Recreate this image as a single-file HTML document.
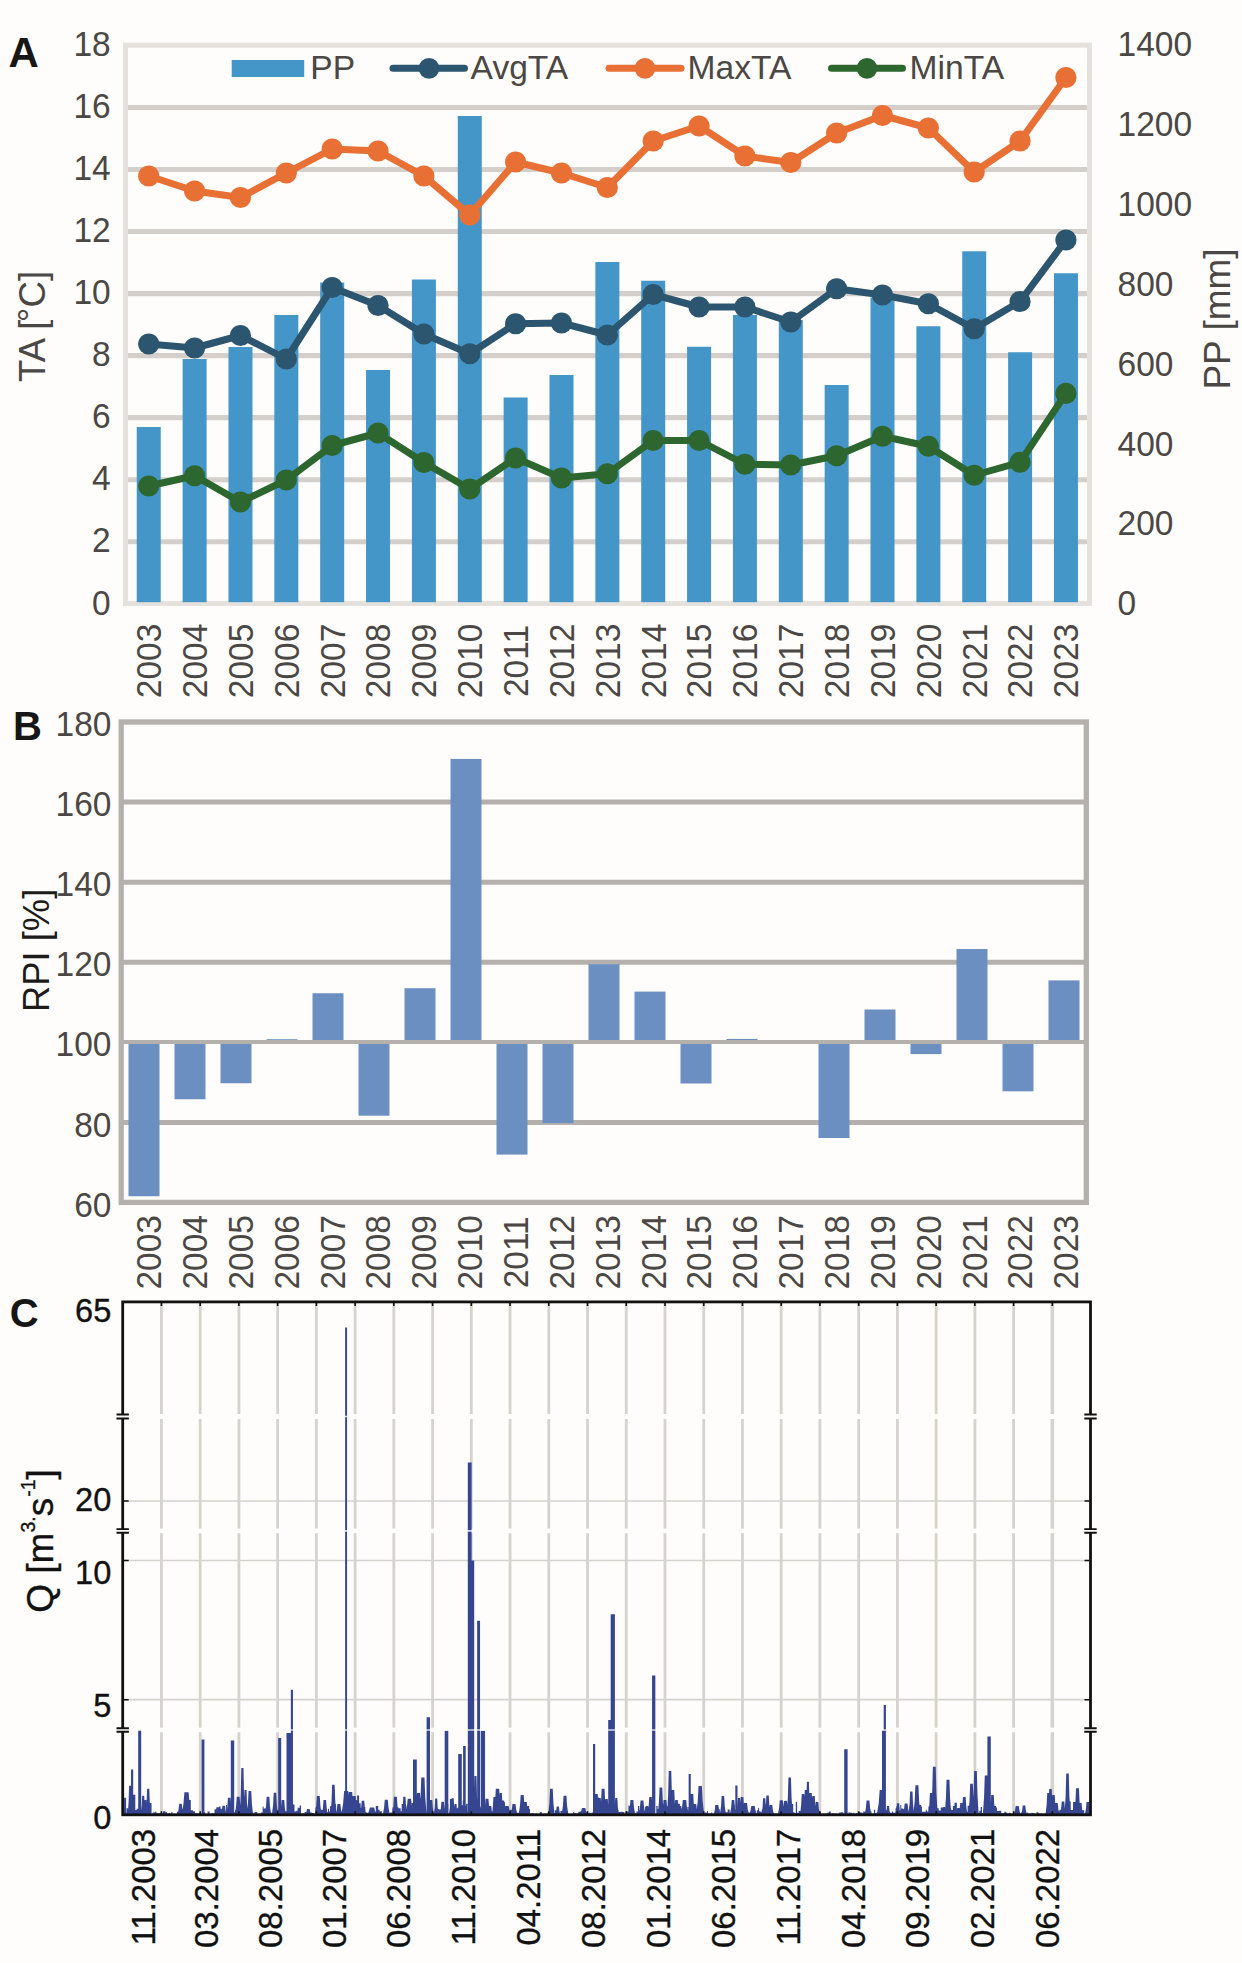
<!DOCTYPE html>
<html lang="en">
<head>
<meta charset="utf-8">
<title>Figure: TA, PP, RPI and Q (2003-2023)</title>
<style>
html,body{margin:0;padding:0;background:#fefdfb;}
body{width:1242px;height:1963px;overflow:hidden;font-family:"Liberation Sans", sans-serif;}
svg{display:block;}
text{white-space:pre;}
</style>
</head>
<body>
<svg width="1242" height="1963" viewBox="0 0 1242 1963">
<rect width="1242" height="1963" fill="#fefdfb"/>
<g id="panelA">
<line x1="125.5" x2="1089.5" y1="541.72" y2="541.72" stroke="#d4cfca" stroke-width="5.1"/>
<line x1="125.5" x2="1089.5" y1="479.68" y2="479.68" stroke="#d4cfca" stroke-width="5.1"/>
<line x1="125.5" x2="1089.5" y1="417.65" y2="417.65" stroke="#d4cfca" stroke-width="5.1"/>
<line x1="125.5" x2="1089.5" y1="355.62" y2="355.62" stroke="#d4cfca" stroke-width="5.1"/>
<line x1="125.5" x2="1089.5" y1="293.58" y2="293.58" stroke="#d4cfca" stroke-width="5.1"/>
<line x1="125.5" x2="1089.5" y1="231.55" y2="231.55" stroke="#d4cfca" stroke-width="5.1"/>
<line x1="125.5" x2="1089.5" y1="169.52" y2="169.52" stroke="#d4cfca" stroke-width="5.1"/>
<line x1="125.5" x2="1089.5" y1="107.48" y2="107.48" stroke="#d4cfca" stroke-width="5.1"/>
<rect x="125.5" y="45.2" width="964" height="558.3" fill="none" stroke="#e5e2de" stroke-width="5"/>
<rect x="136.75" y="427" width="24" height="175.2" fill="#4596c8"/>
<rect x="182.61" y="359" width="24" height="243.2" fill="#4596c8"/>
<rect x="228.47" y="347" width="24" height="255.2" fill="#4596c8"/>
<rect x="274.33" y="315" width="24" height="287.2" fill="#4596c8"/>
<rect x="320.19" y="282.5" width="24" height="319.7" fill="#4596c8"/>
<rect x="366.05" y="370" width="24" height="232.2" fill="#4596c8"/>
<rect x="411.91" y="279.5" width="24" height="322.7" fill="#4596c8"/>
<rect x="457.77" y="116" width="24" height="486.2" fill="#4596c8"/>
<rect x="503.63" y="397.5" width="24" height="204.7" fill="#4596c8"/>
<rect x="549.49" y="375" width="24" height="227.2" fill="#4596c8"/>
<rect x="595.35" y="262" width="24" height="340.2" fill="#4596c8"/>
<rect x="641.21" y="280.75" width="24" height="321.45" fill="#4596c8"/>
<rect x="687.07" y="346.75" width="24" height="255.45" fill="#4596c8"/>
<rect x="732.93" y="315" width="24" height="287.2" fill="#4596c8"/>
<rect x="778.79" y="320" width="24" height="282.2" fill="#4596c8"/>
<rect x="824.65" y="385" width="24" height="217.2" fill="#4596c8"/>
<rect x="870.51" y="297.5" width="24" height="304.7" fill="#4596c8"/>
<rect x="916.37" y="326.25" width="24" height="275.95" fill="#4596c8"/>
<rect x="962.23" y="251.25" width="24" height="350.95" fill="#4596c8"/>
<rect x="1008.09" y="352.25" width="24" height="249.95" fill="#4596c8"/>
<rect x="1053.95" y="273.25" width="24" height="328.95" fill="#4596c8"/>
<polyline points="148.75,344 194.61,348 240.47,335.5 286.33,359 332.19,287.5 378.05,305.5 423.91,334 469.77,353.75 515.63,323.75 561.49,323 607.35,335 653.21,294.5 699.07,307 744.93,307 790.79,322 836.65,288.75 882.51,295 928.37,303.75 974.23,328.75 1020.09,301.5 1065.95,240" fill="none" stroke="#2c566f" stroke-width="7" stroke-linejoin="round" stroke-linecap="round"/>
<circle cx="148.75" cy="344" r="10.6" fill="#2c566f"/>
<circle cx="194.61" cy="348" r="10.6" fill="#2c566f"/>
<circle cx="240.47" cy="335.5" r="10.6" fill="#2c566f"/>
<circle cx="286.33" cy="359" r="10.6" fill="#2c566f"/>
<circle cx="332.19" cy="287.5" r="10.6" fill="#2c566f"/>
<circle cx="378.05" cy="305.5" r="10.6" fill="#2c566f"/>
<circle cx="423.91" cy="334" r="10.6" fill="#2c566f"/>
<circle cx="469.77" cy="353.75" r="10.6" fill="#2c566f"/>
<circle cx="515.63" cy="323.75" r="10.6" fill="#2c566f"/>
<circle cx="561.49" cy="323" r="10.6" fill="#2c566f"/>
<circle cx="607.35" cy="335" r="10.6" fill="#2c566f"/>
<circle cx="653.21" cy="294.5" r="10.6" fill="#2c566f"/>
<circle cx="699.07" cy="307" r="10.6" fill="#2c566f"/>
<circle cx="744.93" cy="307" r="10.6" fill="#2c566f"/>
<circle cx="790.79" cy="322" r="10.6" fill="#2c566f"/>
<circle cx="836.65" cy="288.75" r="10.6" fill="#2c566f"/>
<circle cx="882.51" cy="295" r="10.6" fill="#2c566f"/>
<circle cx="928.37" cy="303.75" r="10.6" fill="#2c566f"/>
<circle cx="974.23" cy="328.75" r="10.6" fill="#2c566f"/>
<circle cx="1020.09" cy="301.5" r="10.6" fill="#2c566f"/>
<circle cx="1065.95" cy="240" r="10.6" fill="#2c566f"/>
<polyline points="148.75,176 194.61,191 240.47,197.5 286.33,173 332.19,149 378.05,151 423.91,176 469.77,215 515.63,162 561.49,173 607.35,187.5 653.21,141 699.07,126 744.93,156 790.79,162.5 836.65,133 882.51,115.5 928.37,128 974.23,172 1020.09,141 1065.95,77.5" fill="none" stroke="#e97035" stroke-width="7" stroke-linejoin="round" stroke-linecap="round"/>
<circle cx="148.75" cy="176" r="10.6" fill="#e97035"/>
<circle cx="194.61" cy="191" r="10.6" fill="#e97035"/>
<circle cx="240.47" cy="197.5" r="10.6" fill="#e97035"/>
<circle cx="286.33" cy="173" r="10.6" fill="#e97035"/>
<circle cx="332.19" cy="149" r="10.6" fill="#e97035"/>
<circle cx="378.05" cy="151" r="10.6" fill="#e97035"/>
<circle cx="423.91" cy="176" r="10.6" fill="#e97035"/>
<circle cx="469.77" cy="215" r="10.6" fill="#e97035"/>
<circle cx="515.63" cy="162" r="10.6" fill="#e97035"/>
<circle cx="561.49" cy="173" r="10.6" fill="#e97035"/>
<circle cx="607.35" cy="187.5" r="10.6" fill="#e97035"/>
<circle cx="653.21" cy="141" r="10.6" fill="#e97035"/>
<circle cx="699.07" cy="126" r="10.6" fill="#e97035"/>
<circle cx="744.93" cy="156" r="10.6" fill="#e97035"/>
<circle cx="790.79" cy="162.5" r="10.6" fill="#e97035"/>
<circle cx="836.65" cy="133" r="10.6" fill="#e97035"/>
<circle cx="882.51" cy="115.5" r="10.6" fill="#e97035"/>
<circle cx="928.37" cy="128" r="10.6" fill="#e97035"/>
<circle cx="974.23" cy="172" r="10.6" fill="#e97035"/>
<circle cx="1020.09" cy="141" r="10.6" fill="#e97035"/>
<circle cx="1065.95" cy="77.5" r="10.6" fill="#e97035"/>
<polyline points="148.75,486 194.61,475.75 240.47,502 286.33,480 332.19,445.5 378.05,433 423.91,462.5 469.77,489 515.63,458 561.49,478 607.35,473.75 653.21,440.5 699.07,440.5 744.93,464.25 790.79,465 836.65,455.75 882.51,436.25 928.37,446.25 974.23,475.25 1020.09,462.25 1065.95,393.4" fill="none" stroke="#2d672f" stroke-width="7" stroke-linejoin="round" stroke-linecap="round"/>
<circle cx="148.75" cy="486" r="10.6" fill="#2d672f"/>
<circle cx="194.61" cy="475.75" r="10.6" fill="#2d672f"/>
<circle cx="240.47" cy="502" r="10.6" fill="#2d672f"/>
<circle cx="286.33" cy="480" r="10.6" fill="#2d672f"/>
<circle cx="332.19" cy="445.5" r="10.6" fill="#2d672f"/>
<circle cx="378.05" cy="433" r="10.6" fill="#2d672f"/>
<circle cx="423.91" cy="462.5" r="10.6" fill="#2d672f"/>
<circle cx="469.77" cy="489" r="10.6" fill="#2d672f"/>
<circle cx="515.63" cy="458" r="10.6" fill="#2d672f"/>
<circle cx="561.49" cy="478" r="10.6" fill="#2d672f"/>
<circle cx="607.35" cy="473.75" r="10.6" fill="#2d672f"/>
<circle cx="653.21" cy="440.5" r="10.6" fill="#2d672f"/>
<circle cx="699.07" cy="440.5" r="10.6" fill="#2d672f"/>
<circle cx="744.93" cy="464.25" r="10.6" fill="#2d672f"/>
<circle cx="790.79" cy="465" r="10.6" fill="#2d672f"/>
<circle cx="836.65" cy="455.75" r="10.6" fill="#2d672f"/>
<circle cx="882.51" cy="436.25" r="10.6" fill="#2d672f"/>
<circle cx="928.37" cy="446.25" r="10.6" fill="#2d672f"/>
<circle cx="974.23" cy="475.25" r="10.6" fill="#2d672f"/>
<circle cx="1020.09" cy="462.25" r="10.6" fill="#2d672f"/>
<circle cx="1065.95" cy="393.4" r="10.6" fill="#2d672f"/>
<rect x="231.7" y="60" width="72.5" height="17" fill="#4596c8"/>
<line x1="393" x2="464.5" y1="68.3" y2="68.3" stroke="#2c566f" stroke-width="7" stroke-linecap="round"/>
<circle cx="429" cy="68.3" r="10.4" fill="#2c566f"/>
<line x1="609" x2="681" y1="68.3" y2="68.3" stroke="#e97035" stroke-width="7" stroke-linecap="round"/>
<circle cx="645" cy="68.3" r="10.4" fill="#e97035"/>
<line x1="831.5" x2="902.5" y1="68.3" y2="68.3" stroke="#2d672f" stroke-width="7" stroke-linecap="round"/>
<circle cx="867" cy="68.3" r="10.4" fill="#2d672f"/>
<g font-family='"Liberation Sans", sans-serif' font-size="33.6" fill="#4a4744">
<text x="310.3" y="78.6">PP</text>
<text x="470.6" y="78.6">AvgTA</text>
<text x="687.6" y="78.6">MaxTA</text>
<text x="909.6" y="78.6">MinTA</text>
</g>
<g font-family='"Liberation Sans", sans-serif' font-size="33.5" fill="#4a4744" text-anchor="end">
<text transform="translate(110.7,614.5) scale(1,1.045)">0</text>
<text transform="translate(110.7,552.47) scale(1,1.045)">2</text>
<text transform="translate(110.7,490.43) scale(1,1.045)">4</text>
<text transform="translate(110.7,428.4) scale(1,1.045)">6</text>
<text transform="translate(110.7,366.37) scale(1,1.045)">8</text>
<text transform="translate(110.7,304.33) scale(1,1.045)">10</text>
<text transform="translate(110.7,242.3) scale(1,1.045)">12</text>
<text transform="translate(110.7,180.27) scale(1,1.045)">14</text>
<text transform="translate(110.7,118.23) scale(1,1.045)">16</text>
<text transform="translate(110.7,56.2) scale(1,1.045)">18</text>
</g>
<g font-family='"Liberation Sans", sans-serif' font-size="33.5" fill="#4a4744">
<text transform="translate(1117.6,615.2) scale(1,1.045)">0</text>
<text transform="translate(1117.6,535.38) scale(1,1.045)">200</text>
<text transform="translate(1117.6,455.56) scale(1,1.045)">400</text>
<text transform="translate(1117.6,375.74) scale(1,1.045)">600</text>
<text transform="translate(1117.6,295.92) scale(1,1.045)">800</text>
<text transform="translate(1117.6,216.1) scale(1,1.045)">1000</text>
<text transform="translate(1117.6,136.28) scale(1,1.045)">1200</text>
<text transform="translate(1117.6,56.46) scale(1,1.045)">1400</text>
</g>
<g font-family='"Liberation Sans", sans-serif' font-size="33.5" fill="#4a4744" text-anchor="middle">
<text transform="translate(161.15,661) rotate(-90) scale(1,1.045)">2003</text>
<text transform="translate(207.01,661) rotate(-90) scale(1,1.045)">2004</text>
<text transform="translate(252.87,661) rotate(-90) scale(1,1.045)">2005</text>
<text transform="translate(298.73,661) rotate(-90) scale(1,1.045)">2006</text>
<text transform="translate(344.59,661) rotate(-90) scale(1,1.045)">2007</text>
<text transform="translate(390.45,661) rotate(-90) scale(1,1.045)">2008</text>
<text transform="translate(436.31,661) rotate(-90) scale(1,1.045)">2009</text>
<text transform="translate(482.17,661) rotate(-90) scale(1,1.045)">2010</text>
<text transform="translate(528.03,661) rotate(-90) scale(1,1.045)">2011</text>
<text transform="translate(573.89,661) rotate(-90) scale(1,1.045)">2012</text>
<text transform="translate(619.75,661) rotate(-90) scale(1,1.045)">2013</text>
<text transform="translate(665.61,661) rotate(-90) scale(1,1.045)">2014</text>
<text transform="translate(711.47,661) rotate(-90) scale(1,1.045)">2015</text>
<text transform="translate(757.33,661) rotate(-90) scale(1,1.045)">2016</text>
<text transform="translate(803.19,661) rotate(-90) scale(1,1.045)">2017</text>
<text transform="translate(849.05,661) rotate(-90) scale(1,1.045)">2018</text>
<text transform="translate(894.91,661) rotate(-90) scale(1,1.045)">2019</text>
<text transform="translate(940.77,661) rotate(-90) scale(1,1.045)">2020</text>
<text transform="translate(986.63,661) rotate(-90) scale(1,1.045)">2021</text>
<text transform="translate(1032.49,661) rotate(-90) scale(1,1.045)">2022</text>
<text transform="translate(1078.35,661) rotate(-90) scale(1,1.045)">2023</text>
</g>
<text transform="translate(45.4,326.4) rotate(-90)" font-family='"Liberation Sans", sans-serif' font-size="36.6" fill="#4a4744" text-anchor="middle">TA [<tspan dx="-2.6" dy="-1.5">°</tspan><tspan dy="1.5">C]</tspan></text>
<text transform="translate(1230.2,319) rotate(-90)" font-family='"Liberation Sans", sans-serif' font-size="37" fill="#4a4744" text-anchor="middle">PP [mm]</text>
<text x="8.5" y="67.3" font-family='"Liberation Sans", sans-serif' font-size="42" font-weight="bold" fill="#161616">A</text>
</g>
<g id="panelB">
<line x1="121.2" x2="1086.3" y1="802" y2="802" stroke="#b4b0ab" stroke-width="5.1"/>
<line x1="121.2" x2="1086.3" y1="882.3" y2="882.3" stroke="#b4b0ab" stroke-width="5.1"/>
<line x1="121.2" x2="1086.3" y1="962.2" y2="962.2" stroke="#b4b0ab" stroke-width="5.1"/>
<line x1="121.2" x2="1086.3" y1="1122.5" y2="1122.5" stroke="#b4b0ab" stroke-width="5.1"/>
<rect x="128.5" y="1042" width="31" height="154.25" fill="#6c8fc1"/>
<rect x="174.5" y="1042" width="31" height="57.25" fill="#6c8fc1"/>
<rect x="220.5" y="1042" width="31" height="41.25" fill="#6c8fc1"/>
<rect x="266.5" y="1039.2" width="31" height="2.8" fill="#6c8fc1"/>
<rect x="312.5" y="993.25" width="31" height="48.75" fill="#6c8fc1"/>
<rect x="358.5" y="1042" width="31" height="73.7" fill="#6c8fc1"/>
<rect x="404.5" y="988.2" width="31" height="53.8" fill="#6c8fc1"/>
<rect x="450.5" y="758.9" width="31" height="283.1" fill="#6c8fc1"/>
<rect x="496.5" y="1042" width="31" height="112.6" fill="#6c8fc1"/>
<rect x="542.5" y="1042" width="31" height="81.1" fill="#6c8fc1"/>
<rect x="588.5" y="964.2" width="31" height="77.8" fill="#6c8fc1"/>
<rect x="634.5" y="991.6" width="31" height="50.4" fill="#6c8fc1"/>
<rect x="680.5" y="1042" width="31" height="41.5" fill="#6c8fc1"/>
<rect x="726.5" y="1038.9" width="31" height="3.1" fill="#6c8fc1"/>
<rect x="818.5" y="1042" width="31" height="96" fill="#6c8fc1"/>
<rect x="864.5" y="1009.5" width="31" height="32.5" fill="#6c8fc1"/>
<rect x="910.5" y="1042" width="31" height="12.1" fill="#6c8fc1"/>
<rect x="956.5" y="949" width="31" height="93" fill="#6c8fc1"/>
<rect x="1002.5" y="1042" width="31" height="49.3" fill="#6c8fc1"/>
<rect x="1048.5" y="980.4" width="31" height="61.6" fill="#6c8fc1"/>
<line x1="121.2" x2="1086.3" y1="1042" y2="1042" stroke="#b4b0ab" stroke-width="4.2"/>
<rect x="121.2" y="722" width="965.1" height="480.4" fill="none" stroke="#b4b0ab" stroke-width="5.3"/>
<g font-family='"Liberation Sans", sans-serif' font-size="33.5" fill="#4a4744" text-anchor="end">
<text transform="translate(111.5,1217.1) scale(1,1.045)">60</text>
<text transform="translate(111.5,1136.6) scale(1,1.045)">80</text>
<text transform="translate(111.5,1056.1) scale(1,1.045)">100</text>
<text transform="translate(111.5,976.3) scale(1,1.045)">120</text>
<text transform="translate(111.5,896.4) scale(1,1.045)">140</text>
<text transform="translate(111.5,816.1) scale(1,1.045)">160</text>
<text transform="translate(111.5,736.1) scale(1,1.045)">180</text>
</g>
<g font-family='"Liberation Sans", sans-serif' font-size="33.5" fill="#4a4744" text-anchor="middle">
<text transform="translate(161.15,1252.3) rotate(-90) scale(1,1.045)">2003</text>
<text transform="translate(207.01,1252.3) rotate(-90) scale(1,1.045)">2004</text>
<text transform="translate(252.87,1252.3) rotate(-90) scale(1,1.045)">2005</text>
<text transform="translate(298.73,1252.3) rotate(-90) scale(1,1.045)">2006</text>
<text transform="translate(344.59,1252.3) rotate(-90) scale(1,1.045)">2007</text>
<text transform="translate(390.45,1252.3) rotate(-90) scale(1,1.045)">2008</text>
<text transform="translate(436.31,1252.3) rotate(-90) scale(1,1.045)">2009</text>
<text transform="translate(482.17,1252.3) rotate(-90) scale(1,1.045)">2010</text>
<text transform="translate(528.03,1252.3) rotate(-90) scale(1,1.045)">2011</text>
<text transform="translate(573.89,1252.3) rotate(-90) scale(1,1.045)">2012</text>
<text transform="translate(619.75,1252.3) rotate(-90) scale(1,1.045)">2013</text>
<text transform="translate(665.61,1252.3) rotate(-90) scale(1,1.045)">2014</text>
<text transform="translate(711.47,1252.3) rotate(-90) scale(1,1.045)">2015</text>
<text transform="translate(757.33,1252.3) rotate(-90) scale(1,1.045)">2016</text>
<text transform="translate(803.19,1252.3) rotate(-90) scale(1,1.045)">2017</text>
<text transform="translate(849.05,1252.3) rotate(-90) scale(1,1.045)">2018</text>
<text transform="translate(894.91,1252.3) rotate(-90) scale(1,1.045)">2019</text>
<text transform="translate(940.77,1252.3) rotate(-90) scale(1,1.045)">2020</text>
<text transform="translate(986.63,1252.3) rotate(-90) scale(1,1.045)">2021</text>
<text transform="translate(1032.49,1252.3) rotate(-90) scale(1,1.045)">2022</text>
<text transform="translate(1078.35,1252.3) rotate(-90) scale(1,1.045)">2023</text>
</g>
<text transform="translate(48.6,950.4) rotate(-90)" font-family='"Liberation Sans", sans-serif' font-size="36.4" fill="#1c1b1a" text-anchor="middle">RPI [%]</text>
<text x="13" y="740" font-family='"Liberation Sans", sans-serif' font-size="40" font-weight="bold" fill="#161616">B</text>
</g>
<g id="panelC">
<line x1="161.44" x2="161.44" y1="1301.9" y2="1814.8" stroke="#d6d2cd" stroke-width="2.8"/>
<line x1="200.17" x2="200.17" y1="1301.9" y2="1814.8" stroke="#d6d2cd" stroke-width="2.8"/>
<line x1="238.91" x2="238.91" y1="1301.9" y2="1814.8" stroke="#d6d2cd" stroke-width="2.8"/>
<line x1="277.64" x2="277.64" y1="1301.9" y2="1814.8" stroke="#d6d2cd" stroke-width="2.8"/>
<line x1="316.38" x2="316.38" y1="1301.9" y2="1814.8" stroke="#d6d2cd" stroke-width="2.8"/>
<line x1="355.11" x2="355.11" y1="1301.9" y2="1814.8" stroke="#d6d2cd" stroke-width="2.8"/>
<line x1="393.84" x2="393.84" y1="1301.9" y2="1814.8" stroke="#d6d2cd" stroke-width="2.8"/>
<line x1="432.58" x2="432.58" y1="1301.9" y2="1814.8" stroke="#d6d2cd" stroke-width="2.8"/>
<line x1="471.31" x2="471.31" y1="1301.9" y2="1814.8" stroke="#d6d2cd" stroke-width="2.8"/>
<line x1="510.05" x2="510.05" y1="1301.9" y2="1814.8" stroke="#d6d2cd" stroke-width="2.8"/>
<line x1="548.78" x2="548.78" y1="1301.9" y2="1814.8" stroke="#d6d2cd" stroke-width="2.8"/>
<line x1="587.52" x2="587.52" y1="1301.9" y2="1814.8" stroke="#d6d2cd" stroke-width="2.8"/>
<line x1="626.25" x2="626.25" y1="1301.9" y2="1814.8" stroke="#d6d2cd" stroke-width="2.8"/>
<line x1="664.99" x2="664.99" y1="1301.9" y2="1814.8" stroke="#d6d2cd" stroke-width="2.8"/>
<line x1="703.73" x2="703.73" y1="1301.9" y2="1814.8" stroke="#d6d2cd" stroke-width="2.8"/>
<line x1="742.46" x2="742.46" y1="1301.9" y2="1814.8" stroke="#d6d2cd" stroke-width="2.8"/>
<line x1="781.2" x2="781.2" y1="1301.9" y2="1814.8" stroke="#d6d2cd" stroke-width="2.8"/>
<line x1="819.93" x2="819.93" y1="1301.9" y2="1814.8" stroke="#d6d2cd" stroke-width="2.8"/>
<line x1="858.67" x2="858.67" y1="1301.9" y2="1814.8" stroke="#d6d2cd" stroke-width="2.8"/>
<line x1="897.4" x2="897.4" y1="1301.9" y2="1814.8" stroke="#d6d2cd" stroke-width="2.8"/>
<line x1="936.13" x2="936.13" y1="1301.9" y2="1814.8" stroke="#d6d2cd" stroke-width="2.8"/>
<line x1="974.87" x2="974.87" y1="1301.9" y2="1814.8" stroke="#d6d2cd" stroke-width="2.8"/>
<line x1="1013.61" x2="1013.61" y1="1301.9" y2="1814.8" stroke="#d6d2cd" stroke-width="2.8"/>
<line x1="1052.34" x2="1052.34" y1="1301.9" y2="1814.8" stroke="#d6d2cd" stroke-width="3.6"/>
<line x1="122.7" x2="1090.5" y1="1501" y2="1501" stroke="#d6d2cd" stroke-width="1.7"/>
<line x1="122.7" x2="1090.5" y1="1560.5" y2="1560.5" stroke="#d6d2cd" stroke-width="1.7"/>
<line x1="122.7" x2="1090.5" y1="1699.7" y2="1699.7" stroke="#d6d2cd" stroke-width="1.7"/>
<rect x="122.7" y="1414" width="967.8" height="5" fill="#fefdfb"/>
<rect x="122.7" y="1528.6" width="967.8" height="4.6" fill="#fefdfb"/>
<rect x="122.7" y="1727.7" width="967.8" height="4.5" fill="#fefdfb"/>
<path d="M123.9,1815 L123.9,1811.66 L125.5,1811.66 L125.5,1812.84 L126.5,1812.84 L126.5,1808.24 L128.1,1808.24 L128.1,1813.02 L129.4,1813.02 L129.4,1812.81 L130.4,1812.81 L130.4,1812.09 L131.4,1812.09 L131.4,1809.84 L132.7,1809.84 L132.7,1810.76 L133.7,1810.76 L133.7,1812.25 L135,1812.25 L135,1810.05 L136.6,1810.05 L136.6,1808.7 L139,1808.7 L139,1812.77 L140.3,1812.77 L140.3,1810.02 L141.6,1810.02 L141.6,1809.67 L142.6,1809.67 L142.6,1810.6 L144.6,1810.6 L144.6,1808.18 L146.2,1808.18 L146.2,1812.37 L147.8,1812.37 L147.8,1813.26 L149.1,1813.26 L149.1,1805.17 L151.1,1805.17 L151.1,1813.77 L152.7,1813.77 L152.7,1812.55 L155.1,1812.55 L155.1,1811.63 L156.4,1811.63 L156.4,1812.88 L157.4,1812.88 L157.4,1813.28 L159,1813.28 L159,1813.09 L161,1813.09 L161,1811.57 L162,1811.57 L162,1813.55 L163,1813.55 L163,1811.16 L165.4,1811.16 L165.4,1812.32 L167,1812.32 L167,1813.63 L168.6,1813.63 L168.6,1813.02 L169.9,1813.02 L169.9,1813.67 L171.2,1813.67 L171.2,1812.27 L172.5,1812.27 L172.5,1813.64 L174.5,1813.64 L174.5,1813.75 L176.9,1813.75 L176.9,1811.79 L178.9,1811.79 L178.9,1807.56 L180.9,1807.56 L180.9,1808.99 L182.9,1808.99 L182.9,1812.61 L184.2,1812.61 L184.2,1810.76 L185.2,1810.76 L185.2,1813.54 L186.8,1813.54 L186.8,1810.83 L189.2,1810.83 L189.2,1811 L190.5,1811 L190.5,1810.26 L192.9,1810.26 L192.9,1811.21 L194.9,1811.21 L194.9,1813.19 L197.3,1813.19 L197.3,1813.19 L198.3,1813.19 L198.3,1813.72 L199.6,1813.72 L199.6,1813.58 L200.9,1813.58 L200.9,1813.75 L201.9,1813.75 L201.9,1811.4 L202.9,1811.4 L202.9,1811.4 L203.9,1811.4 L203.9,1812.2 L205.2,1812.2 L205.2,1813.68 L207.6,1813.68 L207.6,1811.57 L209.6,1811.57 L209.6,1813.64 L211.6,1813.64 L211.6,1813.05 L213.2,1813.05 L213.2,1813.53 L214.5,1813.53 L214.5,1809.16 L216.9,1809.16 L216.9,1810.89 L217.9,1810.89 L217.9,1811.05 L218.9,1811.05 L218.9,1806.52 L220.5,1806.52 L220.5,1808.77 L221.8,1808.77 L221.8,1809.5 L223.4,1809.5 L223.4,1808.6 L224.7,1808.6 L224.7,1812.62 L226,1812.62 L226,1804.96 L227,1804.96 L227,1812.14 L229,1812.14 L229,1808.08 L230.6,1808.08 L230.6,1806.49 L232.2,1806.49 L232.2,1812.67 L233.5,1812.67 L233.5,1812.3 L235.1,1812.3 L235.1,1810.09 L237.5,1810.09 L237.5,1811.83 L239.1,1811.83 L239.1,1804.98 L240.1,1804.98 L240.1,1811.41 L241.4,1811.41 L241.4,1811.53 L243,1811.53 L243,1808.93 L245,1808.93 L245,1811.45 L246,1811.45 L246,1812.38 L247.3,1812.38 L247.3,1811.56 L249.3,1811.56 L249.3,1805.43 L251.7,1805.43 L251.7,1812.48 L253.3,1812.48 L253.3,1813.45 L254.3,1813.45 L254.3,1812.24 L255.3,1812.24 L255.3,1811.89 L257.3,1811.89 L257.3,1813.72 L258.6,1813.72 L258.6,1813.59 L261,1813.59 L261,1812.42 L262.6,1812.42 L262.6,1806.53 L263.6,1806.53 L263.6,1808.61 L265.6,1808.61 L265.6,1808.16 L268,1808.16 L268,1813.44 L270.4,1813.44 L270.4,1812.74 L272.8,1812.74 L272.8,1808.79 L274.1,1808.79 L274.1,1812.66 L275.4,1812.66 L275.4,1810.77 L276.4,1810.77 L276.4,1810.08 L278.8,1810.08 L278.8,1807.6 L279.8,1807.6 L279.8,1811.95 L281.1,1811.95 L281.1,1812.08 L283.5,1812.08 L283.5,1809.5 L284.5,1809.5 L284.5,1811.32 L286.9,1811.32 L286.9,1809.85 L288.5,1809.85 L288.5,1811.11 L290.5,1811.11 L290.5,1804.41 L292.9,1804.41 L292.9,1804.59 L294.5,1804.59 L294.5,1811.6 L295.8,1811.6 L295.8,1810.81 L296.8,1810.81 L296.8,1811.26 L298.1,1811.26 L298.1,1808.25 L299.7,1808.25 L299.7,1805.48 L301,1805.48 L301,1813.48 L302.6,1813.48 L302.6,1813.46 L304.6,1813.46 L304.6,1811.93 L306.6,1811.93 L306.6,1813.64 L307.9,1813.64 L307.9,1813.15 L310.3,1813.15 L310.3,1812.61 L311.9,1812.61 L311.9,1813.08 L312.9,1813.08 L312.9,1812.98 L313.9,1812.98 L313.9,1813.79 L315.5,1813.79 L315.5,1807.42 L316.8,1807.42 L316.8,1812.17 L318.4,1812.17 L318.4,1813.57 L319.7,1813.57 L319.7,1809.39 L321.7,1809.39 L321.7,1810.07 L323.3,1810.07 L323.3,1809.27 L325.7,1809.27 L325.7,1812.36 L326.7,1812.36 L326.7,1812.35 L328,1812.35 L328,1808.77 L329,1808.77 L329,1811.61 L330,1811.61 L330,1806.17 L331.6,1806.17 L331.6,1806.3 L333.2,1806.3 L333.2,1812.49 L334.8,1812.49 L334.8,1804.31 L336.1,1804.31 L336.1,1813.44 L337.7,1813.44 L337.7,1810.1 L339.3,1810.1 L339.3,1812.9 L340.6,1812.9 L340.6,1812.35 L341.9,1812.35 L341.9,1813.77 L343.5,1813.77 L343.5,1807.57 L345.9,1807.57 L345.9,1811.12 L347.9,1811.12 L347.9,1804.51 L349.9,1804.51 L349.9,1798.25 L351.9,1798.25 L351.9,1797.98 L353.2,1797.98 L353.2,1806.21 L354.5,1806.21 L354.5,1809.08 L355.5,1809.08 L355.5,1808.72 L357.1,1808.72 L357.1,1795.47 L359.1,1795.47 L359.1,1803.24 L360.7,1803.24 L360.7,1807.85 L361.7,1807.85 L361.7,1811.62 L363.7,1811.62 L363.7,1806.88 L365.3,1806.88 L365.3,1812.21 L366.6,1812.21 L366.6,1812.7 L367.9,1812.7 L367.9,1813.3 L369.9,1813.3 L369.9,1812.4 L371.2,1812.4 L371.2,1813.64 L372.2,1813.64 L372.2,1811.08 L374.2,1811.08 L374.2,1811.75 L375.8,1811.75 L375.8,1805.91 L378.2,1805.91 L378.2,1809.76 L379.5,1809.76 L379.5,1811.36 L381.9,1811.36 L381.9,1813.54 L383.9,1813.54 L383.9,1813.5 L385.2,1813.5 L385.2,1812.59 L387.6,1812.59 L387.6,1813.61 L390,1813.61 L390,1812.45 L392.4,1812.45 L392.4,1807.55 L393.4,1807.55 L393.4,1813.67 L394.7,1813.67 L394.7,1802.57 L396.3,1802.57 L396.3,1807.24 L398.3,1807.24 L398.3,1808.23 L400.7,1808.23 L400.7,1811.2 L401.7,1811.2 L401.7,1804.1 L404.1,1804.1 L404.1,1811.59 L406.5,1811.59 L406.5,1805.69 L408.1,1805.69 L408.1,1810.24 L409.4,1810.24 L409.4,1808.98 L411.4,1808.98 L411.4,1803.05 L413.4,1803.05 L413.4,1807.14 L414.4,1807.14 L414.4,1809.34 L415.4,1809.34 L415.4,1810.75 L417,1810.75 L417,1812.99 L419,1812.99 L419,1806.9 L420,1806.9 L420,1809.67 L421.6,1809.67 L421.6,1810.86 L423.6,1810.86 L423.6,1810.87 L426,1810.87 L426,1812.42 L428,1812.42 L428,1802.17 L430.4,1802.17 L430.4,1805.19 L432,1805.19 L432,1813.53 L433.3,1813.53 L433.3,1812.72 L435.7,1812.72 L435.7,1812.99 L438.1,1812.99 L438.1,1808.92 L439.1,1808.92 L439.1,1809.48 L441.1,1809.48 L441.1,1807.58 L443.1,1807.58 L443.1,1807.8 L444.4,1807.8 L444.4,1810.69 L445.4,1810.69 L445.4,1809.78 L447,1809.78 L447,1803.76 L448.3,1803.76 L448.3,1813.53 L449.9,1813.53 L449.9,1799.29 L451.9,1799.29 L451.9,1798.24 L453.5,1798.24 L453.5,1813.58 L454.5,1813.58 L454.5,1809.55 L456.1,1809.55 L456.1,1808.27 L457.7,1808.27 L457.7,1807.41 L459.3,1807.41 L459.3,1805.84 L460.3,1805.84 L460.3,1805.16 L462.7,1805.16 L462.7,1800.41 L463.7,1800.41 L463.7,1805.74 L466.1,1805.74 L466.1,1803.68 L467.7,1803.68 L467.7,1811.82 L470.1,1811.82 L470.1,1812.73 L471.7,1812.73 L471.7,1808.86 L473.3,1808.86 L473.3,1807.66 L475.3,1807.66 L475.3,1810.12 L476.6,1810.12 L476.6,1799.87 L479,1799.87 L479,1808.14 L480.3,1808.14 L480.3,1806.48 L482.3,1806.48 L482.3,1812.36 L483.6,1812.36 L483.6,1807.86 L484.6,1807.86 L484.6,1813.72 L487,1813.72 L487,1804.96 L489,1804.96 L489,1808.1 L490.3,1808.1 L490.3,1806.28 L491.3,1806.28 L491.3,1811.69 L492.9,1811.69 L492.9,1811.11 L494.2,1811.11 L494.2,1808.89 L496.2,1808.89 L496.2,1806.2 L497.8,1806.2 L497.8,1812.52 L498.8,1812.52 L498.8,1802.98 L500.8,1802.98 L500.8,1805.86 L501.8,1805.86 L501.8,1800.59 L504.2,1800.59 L504.2,1810.29 L505.5,1810.29 L505.5,1807.4 L506.8,1807.4 L506.8,1811.47 L508.8,1811.47 L508.8,1810.23 L509.8,1810.23 L509.8,1809.79 L510.8,1809.79 L510.8,1810.11 L512.1,1810.11 L512.1,1812.15 L514.1,1812.15 L514.1,1808.08 L515.1,1808.08 L515.1,1811.6 L516.4,1811.6 L516.4,1812.83 L518.8,1812.83 L518.8,1813.23 L520.8,1813.23 L520.8,1811.55 L522.1,1811.55 L522.1,1813.06 L523.4,1813.06 L523.4,1813.45 L525,1813.45 L525,1813.39 L527,1813.39 L527,1806.98 L529,1806.98 L529,1809.18 L530,1809.18 L530,1813.55 L531.6,1813.55 L531.6,1813 L533.2,1813 L533.2,1813.54 L534.5,1813.54 L534.5,1813.72 L535.8,1813.72 L535.8,1813.58 L537.4,1813.58 L537.4,1813.72 L539.8,1813.72 L539.8,1812.05 L541.8,1812.05 L541.8,1813.66 L544.2,1813.66 L544.2,1813.59 L545.5,1813.59 L545.5,1813.78 L547.5,1813.78 L547.5,1812.63 L549.5,1812.63 L549.5,1810.21 L551.1,1810.21 L551.1,1812.64 L552.4,1812.64 L552.4,1813.1 L554.8,1813.1 L554.8,1810.25 L556.8,1810.25 L556.8,1813.8 L558.8,1813.8 L558.8,1813.3 L560.4,1813.3 L560.4,1810.92 L561.4,1810.92 L561.4,1810.74 L563.4,1810.74 L563.4,1812.95 L565.4,1812.95 L565.4,1810.44 L566.7,1810.44 L566.7,1810.99 L568,1810.99 L568,1813.65 L570,1813.65 L570,1813.79 L572,1813.79 L572,1813.79 L573,1813.79 L573,1812.3 L574.3,1812.3 L574.3,1813.3 L575.9,1813.3 L575.9,1813.53 L578.3,1813.53 L578.3,1811.77 L579.9,1811.77 L579.9,1811.38 L582.3,1811.38 L582.3,1813.72 L583.3,1813.72 L583.3,1813.07 L585.3,1813.07 L585.3,1812.27 L587.3,1812.27 L587.3,1813.62 L589.3,1813.62 L589.3,1812.59 L590.3,1812.59 L590.3,1813.32 L591.6,1813.32 L591.6,1812.5 L593.2,1812.5 L593.2,1812.97 L595.6,1812.97 L595.6,1813.53 L596.9,1813.53 L596.9,1806.51 L597.9,1806.51 L597.9,1797.43 L599.2,1797.43 L599.2,1813.45 L600.2,1813.45 L600.2,1803.09 L601.2,1803.09 L601.2,1813.24 L603.2,1813.24 L603.2,1805.51 L605.2,1805.51 L605.2,1805.58 L607.6,1805.58 L607.6,1808.44 L608.6,1808.44 L608.6,1807.83 L610.2,1807.83 L610.2,1812.76 L611.8,1812.76 L611.8,1812.62 L613.1,1812.62 L613.1,1813.53 L615.5,1813.53 L615.5,1799.8 L617.1,1799.8 L617.1,1809.93 L618.4,1809.93 L618.4,1812 L620.4,1812 L620.4,1811.85 L622.4,1811.85 L622.4,1812.07 L624.4,1812.07 L624.4,1813.78 L626,1813.78 L626,1811.44 L628.4,1811.44 L628.4,1805.55 L629.4,1805.55 L629.4,1806.2 L631.4,1806.2 L631.4,1812.01 L632.4,1812.01 L632.4,1811.43 L634.8,1811.43 L634.8,1813.19 L636.4,1813.19 L636.4,1811.6 L638,1811.6 L638,1805.89 L639.3,1805.89 L639.3,1810.39 L641.3,1810.39 L641.3,1813.71 L642.9,1813.71 L642.9,1811.25 L644.9,1811.25 L644.9,1806.99 L645.9,1806.99 L645.9,1811.05 L647.2,1811.05 L647.2,1809.77 L648.5,1809.77 L648.5,1808.73 L650.1,1808.73 L650.1,1807.68 L651.1,1807.68 L651.1,1811.57 L652.7,1811.57 L652.7,1808.93 L654.3,1808.93 L654.3,1813.78 L656.3,1813.78 L656.3,1805.88 L657.6,1805.88 L657.6,1809.11 L659.6,1809.11 L659.6,1813.64 L660.9,1813.64 L660.9,1805.24 L662.2,1805.24 L662.2,1805.12 L663.2,1805.12 L663.2,1812.76 L665.6,1812.76 L665.6,1805.13 L666.9,1805.13 L666.9,1806.35 L667.9,1806.35 L667.9,1805.76 L669.2,1805.76 L669.2,1801.99 L670.2,1801.99 L670.2,1807.18 L671.2,1807.18 L671.2,1801.25 L672.2,1801.25 L672.2,1805.62 L673.5,1805.62 L673.5,1805.69 L675.9,1805.69 L675.9,1813.15 L677.9,1813.15 L677.9,1803.76 L679.9,1803.76 L679.9,1813.06 L681.5,1813.06 L681.5,1812.11 L682.8,1812.11 L682.8,1809.4 L683.8,1809.4 L683.8,1807.79 L685.8,1807.79 L685.8,1809.51 L687.4,1809.51 L687.4,1807.02 L688.7,1807.02 L688.7,1810.43 L690.7,1810.43 L690.7,1808.22 L691.7,1808.22 L691.7,1807.31 L693,1807.31 L693,1805.95 L695,1805.95 L695,1813.41 L697,1813.41 L697,1806 L699,1806 L699,1811.41 L701.4,1811.41 L701.4,1813.54 L702.7,1813.54 L702.7,1813.53 L705.1,1813.53 L705.1,1812.5 L707.1,1812.5 L707.1,1810.95 L708.1,1810.95 L708.1,1813.45 L709.1,1813.45 L709.1,1813.51 L711.1,1813.51 L711.1,1812.62 L712.4,1812.62 L712.4,1813.67 L713.7,1813.67 L713.7,1813.48 L715.3,1813.48 L715.3,1805.15 L716.9,1805.15 L716.9,1807.46 L718.5,1807.46 L718.5,1809.19 L719.8,1809.19 L719.8,1812.49 L721.1,1812.49 L721.1,1809.07 L722.4,1809.07 L722.4,1807.6 L724,1807.6 L724,1811.19 L725.3,1811.19 L725.3,1812.26 L727.7,1812.26 L727.7,1809.39 L729.7,1809.39 L729.7,1812.84 L730.7,1812.84 L730.7,1810.58 L732.7,1810.58 L732.7,1804.66 L734.7,1804.66 L734.7,1812.24 L736.3,1812.24 L736.3,1812.46 L737.6,1812.46 L737.6,1812.87 L738.6,1812.87 L738.6,1807.09 L740.2,1807.09 L740.2,1803.37 L742.6,1803.37 L742.6,1811.44 L743.6,1811.44 L743.6,1810.24 L745.2,1810.24 L745.2,1812.43 L747.6,1812.43 L747.6,1812.62 L749.6,1812.62 L749.6,1812.78 L750.6,1812.78 L750.6,1813.16 L752.2,1813.16 L752.2,1810.98 L753.5,1810.98 L753.5,1812.68 L754.8,1812.68 L754.8,1813.77 L756.8,1813.77 L756.8,1810.13 L758.1,1810.13 L758.1,1807.73 L759.1,1807.73 L759.1,1811.19 L760.7,1811.19 L760.7,1812.32 L761.7,1812.32 L761.7,1809.4 L763.3,1809.4 L763.3,1804.03 L765.7,1804.03 L765.7,1813.8 L767,1813.8 L767,1810.39 L768,1810.39 L768,1812.16 L769.3,1812.16 L769.3,1812.81 L770.3,1812.81 L770.3,1813.73 L771.6,1813.73 L771.6,1812.75 L774,1812.75 L774,1813.59 L776,1813.59 L776,1813.57 L777.6,1813.57 L777.6,1813.89 L779.6,1813.89 L779.6,1808.77 L781.6,1808.77 L781.6,1810.81 L783.6,1810.81 L783.6,1813.68 L785.2,1813.68 L785.2,1800.82 L786.8,1800.82 L786.8,1810.02 L788.4,1810.02 L788.4,1807.38 L790.8,1807.38 L790.8,1803.94 L793.2,1803.94 L793.2,1812.28 L794.5,1812.28 L794.5,1813.09 L795.8,1813.09 L795.8,1801.71 L797.1,1801.71 L797.1,1812.63 L798.7,1812.63 L798.7,1811.08 L801.1,1811.08 L801.1,1806.41 L803.5,1806.41 L803.5,1803.24 L804.5,1803.24 L804.5,1809.76 L805.8,1809.76 L805.8,1808.01 L807.1,1808.01 L807.1,1804.68 L809.5,1804.68 L809.5,1811.93 L810.5,1811.93 L810.5,1810.81 L811.8,1810.81 L811.8,1813.38 L812.8,1813.38 L812.8,1807.06 L813.8,1807.06 L813.8,1801.63 L814.8,1801.63 L814.8,1806.54 L816.1,1806.54 L816.1,1801.66 L817.1,1801.66 L817.1,1813.18 L819.1,1813.18 L819.1,1810.95 L820.1,1810.95 L820.1,1812.78 L821.1,1812.78 L821.1,1813.66 L822.7,1813.66 L822.7,1813.68 L824,1813.68 L824,1813.71 L825.6,1813.71 L825.6,1813.53 L827.2,1813.53 L827.2,1812.83 L828.8,1812.83 L828.8,1811.4 L830.8,1811.4 L830.8,1813.84 L831.8,1813.84 L831.8,1813.28 L834.2,1813.28 L834.2,1813.51 L835.2,1813.51 L835.2,1813.39 L836.2,1813.39 L836.2,1813.73 L838.2,1813.73 L838.2,1813.62 L839.2,1813.62 L839.2,1812.43 L841.2,1812.43 L841.2,1812.2 L843.2,1812.2 L843.2,1813.46 L845.6,1813.46 L845.6,1812.23 L847.2,1812.23 L847.2,1813.7 L848.5,1813.7 L848.5,1812.14 L849.5,1812.14 L849.5,1812.78 L851.9,1812.78 L851.9,1813.47 L853.5,1813.47 L853.5,1812.75 L854.5,1812.75 L854.5,1813.71 L856.1,1813.71 L856.1,1813.22 L858.5,1813.22 L858.5,1811.97 L859.8,1811.97 L859.8,1812.56 L862.2,1812.56 L862.2,1813.32 L863.2,1813.32 L863.2,1811.59 L864.5,1811.59 L864.5,1811.87 L866.9,1811.87 L866.9,1811.44 L868.9,1811.44 L868.9,1812.97 L870.2,1812.97 L870.2,1811.39 L871.5,1811.39 L871.5,1813.52 L873.9,1813.52 L873.9,1809.75 L875.2,1809.75 L875.2,1813.21 L876.8,1813.21 L876.8,1812.08 L878.1,1812.08 L878.1,1812.62 L879.1,1812.62 L879.1,1807.88 L880.4,1807.88 L880.4,1810.57 L882,1810.57 L882,1812.16 L883.3,1812.16 L883.3,1813.1 L884.9,1813.1 L884.9,1812.26 L885.9,1812.26 L885.9,1810.25 L887.9,1810.25 L887.9,1812.01 L889.5,1812.01 L889.5,1812.67 L891.9,1812.67 L891.9,1811.62 L893.2,1811.62 L893.2,1812.75 L895.6,1812.75 L895.6,1808.29 L896.9,1808.29 L896.9,1803.14 L899.3,1803.14 L899.3,1810.32 L900.3,1810.32 L900.3,1805.11 L901.3,1805.11 L901.3,1808.42 L903.3,1808.42 L903.3,1809.3 L904.9,1809.3 L904.9,1809.74 L905.9,1809.74 L905.9,1804.72 L907.2,1804.72 L907.2,1809.26 L908.2,1809.26 L908.2,1812.5 L909.2,1812.5 L909.2,1806.49 L910.5,1806.49 L910.5,1811.59 L911.8,1811.59 L911.8,1810.97 L914.2,1810.97 L914.2,1808.36 L916.2,1808.36 L916.2,1809.74 L917.8,1809.74 L917.8,1812.16 L919.8,1812.16 L919.8,1806.6 L921.8,1806.6 L921.8,1811.86 L924.2,1811.86 L924.2,1811.83 L925.8,1811.83 L925.8,1809.68 L926.8,1809.68 L926.8,1811.54 L928.4,1811.54 L928.4,1806.56 L930,1806.56 L930,1801.73 L932.4,1801.73 L932.4,1811.21 L934.4,1811.21 L934.4,1808.39 L935.4,1808.39 L935.4,1807.88 L937.4,1807.88 L937.4,1808.37 L938.7,1808.37 L938.7,1810.43 L940.7,1810.43 L940.7,1807.52 L943.1,1807.52 L943.1,1807.1 L945.1,1807.1 L945.1,1808.08 L946.7,1808.08 L946.7,1809.31 L948.7,1809.31 L948.7,1808.27 L950.3,1808.27 L950.3,1809.63 L951.9,1809.63 L951.9,1810.03 L952.9,1810.03 L952.9,1805.94 L954.5,1805.94 L954.5,1802.67 L956.9,1802.67 L956.9,1810.13 L958.2,1810.13 L958.2,1813.77 L960.6,1813.77 L960.6,1810.7 L961.6,1810.7 L961.6,1807.07 L962.6,1807.07 L962.6,1810.12 L963.9,1810.12 L963.9,1812.83 L965.2,1812.83 L965.2,1811.66 L967.6,1811.66 L967.6,1805.79 L970,1805.79 L970,1807.17 L972.4,1807.17 L972.4,1810.92 L973.7,1810.92 L973.7,1809.57 L974.7,1809.57 L974.7,1810.61 L975.7,1810.61 L975.7,1809.36 L977,1809.36 L977,1812.68 L979.4,1812.68 L979.4,1810.72 L980.7,1810.72 L980.7,1807.02 L982,1807.02 L982,1813.03 L983,1813.03 L983,1810.42 L985.4,1810.42 L985.4,1809.69 L987.4,1809.69 L987.4,1812.94 L988.4,1812.94 L988.4,1813.69 L989.4,1813.69 L989.4,1811.64 L991,1811.64 L991,1806.81 L993,1806.81 L993,1812.8 L994,1812.8 L994,1807.03 L995.3,1807.03 L995.3,1807.53 L996.9,1807.53 L996.9,1810.94 L999.3,1810.94 L999.3,1810.69 L1001.3,1810.69 L1001.3,1813.38 L1002.3,1813.38 L1002.3,1813 L1004.3,1813 L1004.3,1811.72 L1005.9,1811.72 L1005.9,1812.49 L1007.2,1812.49 L1007.2,1813.54 L1008.8,1813.54 L1008.8,1812.77 L1010.1,1812.77 L1010.1,1812.91 L1011.1,1812.91 L1011.1,1813.81 L1013.1,1813.81 L1013.1,1813.78 L1014.7,1813.78 L1014.7,1812.73 L1016.7,1812.73 L1016.7,1811.4 L1019.1,1811.4 L1019.1,1813.56 L1021.5,1813.56 L1021.5,1812.02 L1023.9,1812.02 L1023.9,1813.08 L1024.9,1813.08 L1024.9,1813.73 L1026.2,1813.73 L1026.2,1813.72 L1027.2,1813.72 L1027.2,1812.44 L1028.2,1812.44 L1028.2,1813.44 L1029.8,1813.44 L1029.8,1813.79 L1031.4,1813.79 L1031.4,1812.76 L1032.4,1812.76 L1032.4,1812.97 L1033.4,1812.97 L1033.4,1813.15 L1034.4,1813.15 L1034.4,1813.87 L1036.4,1813.87 L1036.4,1812.13 L1038.4,1812.13 L1038.4,1813.17 L1039.7,1813.17 L1039.7,1813.63 L1040.7,1813.63 L1040.7,1813.14 L1042,1813.14 L1042,1813.68 L1043,1813.68 L1043,1813.76 L1044,1813.76 L1044,1813.54 L1046,1813.54 L1046,1812.58 L1047.3,1812.58 L1047.3,1806.99 L1048.3,1806.99 L1048.3,1811.17 L1049.6,1811.17 L1049.6,1808.8 L1052,1808.8 L1052,1805.14 L1053.6,1805.14 L1053.6,1813.76 L1054.6,1813.76 L1054.6,1812.87 L1057,1812.87 L1057,1811.22 L1059.4,1811.22 L1059.4,1809.71 L1061.4,1809.71 L1061.4,1808.74 L1063.8,1808.74 L1063.8,1811.41 L1065.1,1811.41 L1065.1,1804.59 L1066.7,1804.59 L1066.7,1806.8 L1068.7,1806.8 L1068.7,1801.52 L1070.7,1801.52 L1070.7,1809.94 L1073.1,1809.94 L1073.1,1801.92 L1075.5,1801.92 L1075.5,1807.88 L1077.9,1807.88 L1077.9,1807.91 L1078.9,1807.91 L1078.9,1805.55 L1080.5,1805.55 L1080.5,1807.39 L1081.8,1807.39 L1081.8,1810.22 L1084.2,1810.22 L1084.2,1813.79 L1086.2,1813.79 L1086.2,1813.33 L1087.8,1813.33 L1087.8,1813.38 L1088.8,1813.38 L1088.8,1810.87 L1091.2,1810.87 L1091.2,1815 Z" fill="#36458f"/>
<path d="M124.1,1797.8h2V1815h-2ZM127.7,1815L128.61,1801.38L129.09,1785.7L131.11,1785.7L131.59,1801.38L132.5,1815ZM131,1769.6h2.2V1815h-2.2ZM133.1,1794.7h2.2V1815h-2.2ZM138.2,1730.3h3V1815h-3ZM140.8,1815L141.71,1805.88L142.19,1795.7L144.21,1795.7L144.69,1805.88L145.6,1815ZM144.5,1800h2V1815h-2ZM145.6,1815L146.59,1802.73L147.11,1788.7L149.29,1788.7L149.81,1802.73L150.8,1815ZM149.5,1803h2V1815h-2ZM177.5,1815L178.64,1809.52L179.24,1803.8L181.76,1803.8L182.36,1809.52L183.5,1815ZM181.5,1815L183.4,1804.35L184.4,1792.3L188.6,1792.3L189.6,1804.35L191.5,1815ZM188.8,1800h2V1815h-2ZM201.6,1739.4h2.8V1815h-2.8ZM214.7,1815L215.84,1811.05L216.44,1807.2L218.96,1807.2L219.56,1811.05L220.7,1815ZM220.7,1815L221.84,1810.42L222.44,1805.8L224.96,1805.8L225.56,1810.42L226.7,1815ZM226.2,1815L227.34,1806.82L227.94,1797.8L230.46,1797.8L231.06,1806.82L232.2,1815ZM230.8,1740.4h3.4V1815h-3.4ZM234.8,1815L236.09,1806.33L236.77,1796.7L239.63,1796.7L240.31,1806.33L241.6,1815ZM239.8,1815L240.79,1793.41L241.31,1768L243.49,1768L244.01,1793.41L245,1815ZM243.1,1815L244.01,1803.31L244.49,1790L246.51,1790L246.99,1803.31L247.9,1815ZM246.7,1815L247.92,1803.76L248.56,1791L251.24,1791L251.88,1803.76L253.1,1815ZM264.8,1815L266.02,1806.33L266.66,1796.7L269.34,1796.7L269.98,1806.33L271.2,1815ZM272,1815L273.14,1804.53L273.74,1792.7L276.26,1792.7L276.86,1804.53L278,1815ZM278.2,1738h3V1815h-3ZM280,1815L281.14,1807.81L281.74,1800L284.26,1800L284.86,1807.81L286,1815ZM286.5,1733h6.4V1815h-6.4ZM290.85,1689.7h2.1V1815h-2.1ZM296.4,1815L297.31,1811.32L297.79,1807.8L299.81,1807.8L300.29,1811.32L301.2,1815ZM305.3,1815L306.44,1811.86L307.04,1809L309.56,1809L310.16,1811.86L311.3,1815ZM314.9,1815L316.19,1806.01L316.87,1796L319.73,1796L320.41,1806.01L321.7,1815ZM321.8,1815L322.94,1807.81L323.54,1800L326.06,1800L326.66,1807.81L327.8,1815ZM330.4,1815L331.54,1800.92L332.14,1784.7L334.66,1784.7L335.26,1800.92L336.4,1815ZM335.5,1815L336.79,1809.61L337.47,1804L340.33,1804L341.01,1809.61L342.3,1815ZM345.15,1327.5h1.9V1815h-1.9ZM341.2,1815L343.1,1803.76L344.1,1791L348.3,1791L349.3,1803.76L351.2,1815ZM346.5,1815L348.02,1804.21L348.82,1792L352.18,1792L352.98,1804.21L354.5,1815ZM350,1815L351.52,1806.01L352.32,1796L355.68,1796L356.48,1806.01L358,1815ZM354.5,1815L355.64,1807.81L356.24,1800L358.76,1800L359.36,1807.81L360.5,1815ZM360,1815L361.14,1808.17L361.74,1800.8L364.26,1800.8L364.86,1808.17L366,1815ZM367,1815L368.9,1811.18L369.9,1807.5L374.1,1807.5L375.1,1811.18L377,1815ZM382.7,1815L384.07,1807.72L384.79,1799.8L387.81,1799.8L388.53,1807.72L389.9,1815ZM392,1815L393.29,1806.33L393.97,1796.7L396.83,1796.7L397.51,1806.33L398.8,1815ZM401.8,1815L402.79,1806.33L403.31,1796.7L405.49,1796.7L406.01,1806.33L407,1815ZM405.4,1815L406.92,1807.23L407.72,1798.7L411.08,1798.7L411.88,1807.23L413.4,1815ZM413,1759.5h3.8V1815h-3.8ZM414.9,1815L416.27,1804.66L416.99,1793L420.01,1793L420.73,1804.66L422.1,1815ZM419.1,1815L420.54,1797.73L421.3,1777.6L424.5,1777.6L425.26,1797.73L426.7,1815ZM426.6,1717.2h3.4V1815h-3.4ZM428,1815L429.14,1807.81L429.74,1800L432.26,1800L432.86,1807.81L434,1815ZM433.8,1815L434.71,1807.09L435.19,1798.4L437.21,1798.4L437.69,1807.09L438.6,1815ZM439.7,1815L440.84,1808.62L441.44,1801.8L443.96,1801.8L444.56,1808.62L445.7,1815ZM444.7,1730.7h3.6V1815h-3.6ZM448.7,1815L449.99,1807.27L450.67,1798.8L453.53,1798.8L454.21,1807.27L455.5,1815ZM453.1,1815L454.01,1809.61L454.49,1804L456.51,1804L456.99,1809.61L457.9,1815ZM458.2,1754h3.6V1815h-3.6ZM463.1,1746h2.6V1815h-2.6ZM467.8,1462.5h3.8V1815h-3.8ZM471.6,1560.5h2.6V1815h-2.6ZM473.1,1815L474.01,1797.01L474.49,1776L476.51,1776L476.99,1797.01L477.9,1815ZM477.15,1620.7h2.9V1815h-2.9ZM480.75,1730.7h4.3V1815h-4.3ZM483.6,1815L484.89,1807.27L485.57,1798.8L488.43,1798.8L489.11,1807.27L490.4,1815ZM487.4,1815L488.39,1810.51L488.91,1806L491.09,1806L491.61,1810.51L492.6,1815ZM491.9,1815L492.89,1806.46L493.41,1797L495.59,1797L496.11,1806.46L497.1,1815ZM493.5,1815L495.02,1802.73L495.82,1788.7L499.18,1788.7L499.98,1802.73L501.5,1815ZM498.2,1815L499.19,1804.66L499.71,1793L501.89,1793L502.41,1804.66L503.4,1815ZM500.5,1815L501.64,1808.71L502.24,1802L504.76,1802L505.36,1808.71L506.5,1815ZM503,1815L504.52,1810.51L505.32,1806L508.68,1806L509.48,1810.51L511,1815ZM510.4,1815L511.77,1809.61L512.49,1804L515.51,1804L516.23,1809.61L517.6,1815ZM518.6,1815L519.97,1805.56L520.69,1795L523.71,1795L524.43,1805.56L525.8,1815ZM522.5,1815L523.64,1808.71L524.24,1802L526.76,1802L527.36,1808.71L528.5,1815ZM525.6,1815L526.51,1810.51L526.99,1806L529.01,1806L529.49,1810.51L530.4,1815ZM548.2,1815L549.42,1802.73L550.06,1788.7L552.74,1788.7L553.38,1802.73L554.6,1815ZM555.2,1815L556.19,1810.74L556.71,1806.5L558.89,1806.5L559.41,1810.74L560.4,1815ZM561.6,1815L562.89,1805.88L563.57,1795.7L566.43,1795.7L567.11,1805.88L568.4,1815ZM579.6,1815L581.12,1811.41L581.92,1808L585.28,1808L586.08,1811.41L587.6,1815ZM593,1743.9h2.2V1815h-2.2ZM593.5,1815L594.64,1805.11L595.24,1794L597.76,1794L598.36,1805.11L599.5,1815ZM596.5,1815L597.64,1806.91L598.24,1798L600.76,1798L601.36,1806.91L602.5,1815ZM599.7,1815L600.99,1802.77L601.67,1788.8L604.53,1788.8L605.21,1802.77L606.5,1815ZM603.5,1815L604.64,1807.36L605.24,1799L607.76,1799L608.36,1807.36L609.5,1815ZM608.2,1720h2.6V1815h-2.6ZM610.7,1614.2h4.2V1815h-4.2ZM613.9,1815L614.81,1806.91L615.29,1798L617.31,1798L617.79,1806.91L618.7,1815ZM628.5,1815L629.79,1807.81L630.47,1800L633.33,1800L634.01,1807.81L635.3,1815ZM638.6,1815L639.89,1808.04L640.57,1800.5L643.43,1800.5L644.11,1808.04L645.4,1815ZM644,1815L645.14,1810.51L645.74,1806L648.26,1806L648.86,1810.51L650,1815ZM647.5,1815L648.64,1806.46L649.24,1797L651.76,1797L652.36,1806.46L653.5,1815ZM652.05,1675.5h3.3V1815h-3.3ZM657.7,1815L658.92,1802.23L659.56,1787.6L662.24,1787.6L662.88,1802.23L664.1,1815ZM661.6,1815L662.89,1807.81L663.57,1800L666.43,1800L667.11,1807.81L668.4,1815ZM667,1815L668.14,1794.76L668.74,1771L671.26,1771L671.86,1794.76L673,1815ZM670,1815L671.14,1803.31L671.74,1790L674.26,1790L674.86,1803.31L676,1815ZM673.5,1815L674.64,1807.81L675.24,1800L677.76,1800L678.36,1807.81L679.5,1815ZM677,1815L678.14,1810.51L678.74,1806L681.26,1806L681.86,1810.51L683,1815ZM680.5,1815L682.02,1807.81L682.82,1800L686.18,1800L686.98,1807.81L688.5,1815ZM688.65,1774h2.1V1815h-2.1ZM689,1815L690.14,1805.11L690.74,1794L693.26,1794L693.86,1805.11L695,1815ZM692,1815L693.14,1809.61L693.74,1804L696.26,1804L696.86,1809.61L698,1815ZM696.2,1815L697.72,1801.51L698.52,1786L701.88,1786L702.68,1801.51L704.2,1815ZM713.5,1815L714.79,1810.06L715.47,1805L718.33,1805L719.01,1810.06L720.3,1815ZM719.9,1815L721.04,1806.01L721.64,1796L724.16,1796L724.76,1806.01L725.9,1815ZM730,1815L731.14,1807.81L731.74,1800L734.26,1800L734.86,1807.81L736,1815ZM735.3,1785.6h2.2V1815h-2.2ZM736.6,1815L737.51,1806.91L737.99,1798L740.01,1798L740.49,1806.91L741.4,1815ZM738.8,1815L740.02,1806.46L740.66,1797L743.34,1797L743.98,1806.46L745.2,1815ZM741.9,1815L743.27,1809.16L743.99,1803L747.01,1803L747.73,1809.16L749.1,1815ZM749,1815L750.52,1810.51L751.32,1806L754.68,1806L755.48,1810.51L757,1815ZM761.6,1815L762.59,1807.05L763.11,1798.3L765.29,1798.3L765.81,1807.05L766.8,1815ZM764.8,1815L765.86,1805.83L766.42,1795.6L768.78,1795.6L769.34,1805.83L770.4,1815ZM768,1815L769.14,1810.06L769.74,1805L772.26,1805L772.86,1810.06L774,1815ZM777.7,1815L779.07,1807.94L779.79,1800.3L782.81,1800.3L783.53,1807.94L784.9,1815ZM781.9,1815L783.27,1808.26L783.99,1801L787.01,1801L787.73,1808.26L789.1,1815ZM786.7,1815L787.84,1797.68L788.44,1777.5L790.96,1777.5L791.56,1797.68L792.7,1815ZM800,1815L801.14,1805.11L801.74,1794L804.26,1794L804.86,1805.11L806,1815ZM803,1815L804.14,1803.31L804.74,1790L807.26,1790L807.86,1803.31L809,1815ZM805.5,1815L806.41,1799.62L806.89,1781.8L808.91,1781.8L809.39,1799.62L810.3,1815ZM807.5,1815L808.64,1804.66L809.24,1793L811.76,1793L812.36,1804.66L813.5,1815ZM810.5,1815L811.64,1806.01L812.24,1796L814.76,1796L815.36,1806.01L816.5,1815ZM814,1815L815.14,1808.71L815.74,1802L818.26,1802L818.86,1808.71L820,1815ZM844.2,1749.2h3.4V1815h-3.4ZM864.6,1815L865.89,1808.08L866.57,1800.6L869.43,1800.6L870.11,1808.08L871.4,1815ZM876.8,1815L878.7,1803.31L879.7,1790L883.9,1790L884.9,1803.31L886.8,1815ZM882,1730.5h3.8V1815h-3.8ZM883.7,1705h2.2V1815h-2.2ZM885.6,1815L886.51,1810.51L886.99,1806L889.01,1806L889.49,1810.51L890.4,1815ZM894.8,1815L895.94,1810.51L896.54,1806L899.06,1806L899.66,1810.51L900.8,1815ZM902.7,1815L903.99,1809.38L904.67,1803.5L907.53,1803.5L908.21,1809.38L909.5,1815ZM908.5,1815L909.56,1804.03L910.12,1791.6L912.48,1791.6L913.04,1804.03L914.1,1815ZM913.3,1815L914.67,1801.19L915.39,1785.3L918.41,1785.3L919.13,1801.19L920.5,1815ZM917.4,1815L918.39,1810.06L918.91,1805L921.09,1805L921.61,1810.06L922.6,1815ZM928.2,1815L929.34,1804.66L929.94,1793L932.46,1793L933.06,1804.66L934.2,1815ZM930.9,1815L932.19,1792.87L932.87,1766.8L935.73,1766.8L936.41,1792.87L937.7,1815ZM944.6,1815L945.89,1798.67L946.57,1779.7L949.43,1779.7L950.11,1798.67L951.4,1815ZM955.5,1815L956.64,1811.41L957.24,1808L959.76,1808L960.36,1811.41L961.5,1815ZM958.5,1815L959.64,1809.16L960.24,1803L962.76,1803L963.36,1809.16L964.5,1815ZM961.1,1815L962.32,1806.46L962.96,1797L965.64,1797L966.28,1806.46L967.5,1815ZM968.3,1815L969.52,1800.48L970.16,1783.7L972.84,1783.7L973.48,1800.48L974.7,1815ZM972.3,1815L973.52,1794.72L974.16,1770.9L976.84,1770.9L977.48,1794.72L978.7,1815ZM982.8,1815L984.09,1796.79L984.77,1775.5L987.63,1775.5L988.31,1796.79L989.6,1815ZM987.4,1736.4h3.4V1815h-3.4ZM989.5,1815L990.64,1805.56L991.24,1795L993.76,1795L994.36,1805.56L995.5,1815ZM992.6,1815L993.51,1810.51L993.99,1806L996.01,1806L996.49,1810.51L997.4,1815ZM1013.6,1815L1014.97,1810.51L1015.69,1806L1018.71,1806L1019.43,1810.51L1020.8,1815ZM1021,1815L1022.14,1810.33L1022.74,1805.6L1025.26,1805.6L1025.86,1810.33L1027,1815ZM1045.5,1815L1046.64,1804.66L1047.24,1793L1049.76,1793L1050.36,1804.66L1051.5,1815ZM1047.5,1815L1048.64,1802.82L1049.24,1788.9L1051.76,1788.9L1052.36,1802.82L1053.5,1815ZM1050.5,1815L1051.64,1805.56L1052.24,1795L1054.76,1795L1055.36,1805.56L1056.5,1815ZM1053.5,1815L1054.64,1809.16L1055.24,1803L1057.76,1803L1058.36,1809.16L1059.5,1815ZM1060,1815L1061.14,1808.53L1061.74,1801.6L1064.26,1801.6L1064.86,1808.53L1066,1815ZM1064.5,1815L1065.64,1795.93L1066.24,1773.6L1068.76,1773.6L1069.36,1795.93L1070.5,1815ZM1072,1815L1073.14,1808.71L1073.74,1802L1076.26,1802L1076.86,1808.71L1078,1815ZM1074.1,1815L1075.39,1802.5L1076.07,1788.2L1078.93,1788.2L1079.61,1802.5L1080.9,1815ZM1077.9,1815L1078.89,1809.16L1079.41,1803L1081.59,1803L1082.11,1809.16L1083.1,1815ZM1084.8,1815L1085.94,1808.71L1086.54,1802L1089.06,1802L1089.66,1808.71L1090.8,1815Z" fill="#36458f"/>
<line x1="122.7" x2="1090.5" y1="1416.5" y2="1416.5" stroke="#fefdfb" stroke-width="1.6" opacity="0.8"/>
<line x1="122.7" x2="1090.5" y1="1530.9" y2="1530.9" stroke="#fefdfb" stroke-width="1.6" opacity="0.8"/>
<line x1="122.7" x2="1090.5" y1="1729.95" y2="1729.95" stroke="#fefdfb" stroke-width="1.6" opacity="0.8"/>
<rect x="122.7" y="1301.9" width="967.8" height="512.9" fill="none" stroke="#111111" stroke-width="2.8"/>
<path d="M161.44,1301.9v4.2M161.44,1814.8v-3.6M200.17,1301.9v4.2M200.17,1814.8v-3.6M238.91,1301.9v4.2M238.91,1814.8v-3.6M277.64,1301.9v4.2M277.64,1814.8v-3.6M316.38,1301.9v4.2M316.38,1814.8v-3.6M355.11,1301.9v4.2M355.11,1814.8v-3.6M393.84,1301.9v4.2M393.84,1814.8v-3.6M432.58,1301.9v4.2M432.58,1814.8v-3.6M471.31,1301.9v4.2M471.31,1814.8v-3.6M510.05,1301.9v4.2M510.05,1814.8v-3.6M548.78,1301.9v4.2M548.78,1814.8v-3.6M587.52,1301.9v4.2M587.52,1814.8v-3.6M626.25,1301.9v4.2M626.25,1814.8v-3.6M664.99,1301.9v4.2M664.99,1814.8v-3.6M703.73,1301.9v4.2M703.73,1814.8v-3.6M742.46,1301.9v4.2M742.46,1814.8v-3.6M781.2,1301.9v4.2M781.2,1814.8v-3.6M819.93,1301.9v4.2M819.93,1814.8v-3.6M858.67,1301.9v4.2M858.67,1814.8v-3.6M897.4,1301.9v4.2M897.4,1814.8v-3.6M936.13,1301.9v4.2M936.13,1814.8v-3.6M974.87,1301.9v4.2M974.87,1814.8v-3.6M1013.61,1301.9v4.2M1013.61,1814.8v-3.6M1052.34,1301.9v4.2M1052.34,1814.8v-3.6" stroke="#111111" stroke-width="1.6" fill="none"/>
<path d="M122.7,1501h6M1090.5,1501h-6M122.7,1560.5h6M1090.5,1560.5h-6M122.7,1699.7h6M1090.5,1699.7h-6" stroke="#111111" stroke-width="1.5" fill="none"/>
<rect x="120.7" y="1414.9" width="4" height="3.2" fill="#fefdfb"/>
<path d="M116.5,1414.5h12.4M116.5,1418.5h12.4" stroke="#111111" stroke-width="1.9" fill="none"/>
<rect x="1088.5" y="1414.9" width="4" height="3.2" fill="#fefdfb"/>
<path d="M1084.3,1414.5h12.4M1084.3,1418.5h12.4" stroke="#111111" stroke-width="1.9" fill="none"/>
<rect x="120.7" y="1529.5" width="4" height="2.8" fill="#fefdfb"/>
<path d="M116.5,1529.1h12.4M116.5,1532.7h12.4" stroke="#111111" stroke-width="1.9" fill="none"/>
<rect x="1088.5" y="1529.5" width="4" height="2.8" fill="#fefdfb"/>
<path d="M1084.3,1529.1h12.4M1084.3,1532.7h12.4" stroke="#111111" stroke-width="1.9" fill="none"/>
<rect x="120.7" y="1728.6" width="4" height="2.7" fill="#fefdfb"/>
<path d="M116.5,1728.2h12.4M116.5,1731.7h12.4" stroke="#111111" stroke-width="1.9" fill="none"/>
<rect x="1088.5" y="1728.6" width="4" height="2.7" fill="#fefdfb"/>
<path d="M1084.3,1728.2h12.4M1084.3,1731.7h12.4" stroke="#111111" stroke-width="1.9" fill="none"/>
<g font-family='"Liberation Sans", sans-serif' font-size="32.6" fill="#111111" stroke="#111111" stroke-width="0.35" text-anchor="end">
<text transform="translate(111.3,1322.2) scale(1,1.03)">65</text>
<text transform="translate(111.3,1511.2) scale(1,1.03)">20</text>
<text transform="translate(111.3,1583.7) scale(1,1.03)">10</text>
<text transform="translate(111.3,1716.8) scale(1,1.03)">5</text>
<text transform="translate(111.3,1829.3) scale(1,1.03)">0</text>
</g>
<g font-family='"Liberation Sans", sans-serif' font-size="33" fill="#111111" stroke="#111111" stroke-width="0.35" text-anchor="end">
<text transform="translate(154.9,1828.8) rotate(-90) scale(1,1.03)">11.2003</text>
<text transform="translate(217.5,1828.8) rotate(-90) scale(1,1.03)">03.2004</text>
<text transform="translate(281.5,1828.8) rotate(-90) scale(1,1.03)">08.2005</text>
<text transform="translate(345.6,1828.8) rotate(-90) scale(1,1.03)">01.2007</text>
<text transform="translate(410.47,1828.8) rotate(-90) scale(1,1.03)">06.2008</text>
<text transform="translate(475.34,1828.8) rotate(-90) scale(1,1.03)">11.2010</text>
<text transform="translate(540.21,1828.8) rotate(-90) scale(1,1.03)">04.2011</text>
<text transform="translate(605.08,1828.8) rotate(-90) scale(1,1.03)">08.2012</text>
<text transform="translate(669.95,1828.8) rotate(-90) scale(1,1.03)">01.2014</text>
<text transform="translate(734.82,1828.8) rotate(-90) scale(1,1.03)">06.2015</text>
<text transform="translate(799.69,1828.8) rotate(-90) scale(1,1.03)">11.2017</text>
<text transform="translate(864.56,1828.8) rotate(-90) scale(1,1.03)">04.2018</text>
<text transform="translate(929.43,1828.8) rotate(-90) scale(1,1.03)">09.2019</text>
<text transform="translate(994.3,1828.8) rotate(-90) scale(1,1.03)">02.2021</text>
<text transform="translate(1059.17,1828.8) rotate(-90) scale(1,1.03)">06.2022</text>
</g>
<text transform="translate(53.2,1541) rotate(-90)" font-family='"Liberation Sans", sans-serif' font-size="37" fill="#111111" stroke="#111111" stroke-width="0.35" text-anchor="middle">Q [m<tspan font-size="19.5" dy="-18.5">3.</tspan><tspan dy="18.5">s</tspan><tspan font-size="19.5" dy="-18.5" dx="1">-1</tspan><tspan dy="18.5">]</tspan></text>
<text x="9.8" y="1327" font-family='"Liberation Sans", sans-serif' font-size="40" font-weight="bold" fill="#161616">C</text>
</g>
</svg>
</body>
</html>
